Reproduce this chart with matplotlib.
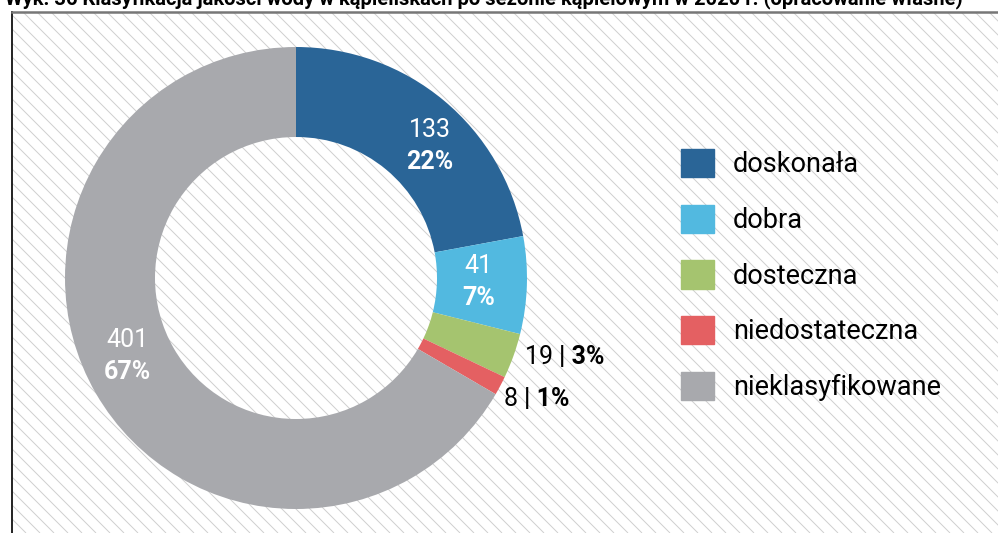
import numpy as np
import matplotlib
matplotlib.use('Agg')
import matplotlib.pyplot as plt
import matplotlib.patches as mpatches

## Data
categories = ['doskonała', 'dobra', 'dosteczna', 'niedostateczna', 'nieklasyfikowane']
counts = [133, 41, 19, 8, 401]
colors = ['#2a6597', '#52b9e0', '#a5c46f', '#e46062', '#a8a9ad']
title = 'Wyk. 36 Klasyfikacja jakości wody w kąpieliskach po sezonie kąpielowym w 2020 r. (opracowanie własne)'

## Style
FONT = ['Roboto', 'DejaVu Sans']
plt.rcParams['font.family'] = FONT
W, H = 998, 533

fig = plt.figure(figsize=(W / 100, H / 100), dpi=100)
fig.patch.set_facecolor('white')

## Background box with diagonal stripes
box_l, box_t = 12, 12
ax_bg = fig.add_axes([box_l / W, 0, 1 - box_l / W, (H - box_t) / H])
bw, bh = W - box_l, H - box_t
ax_bg.set_xlim(0, bw)
ax_bg.set_ylim(0, bh)
for c in np.arange(0, bw + bh + 20, 14):
  ax_bg.plot([0, c], [c, 0], color='#cfcfcf', lw=0.7, solid_capstyle='butt')
ax_bg.set_xticks([])
ax_bg.set_yticks([])
for side in ['right', 'bottom']:
  ax_bg.spines[side].set_visible(False)
ax_bg.spines['left'].set_color('#222222')
ax_bg.spines['left'].set_linewidth(1.4)
ax_bg.spines['top'].set_color('#777777')
ax_bg.spines['top'].set_linewidth(1.8)

## Title (cut off at the top edge, as in the source)
fig.text(5 / W, 1 - 4 / H, title, fontsize=14.5, fontweight='bold', va='baseline', ha='left')

## Donut
cx, cy, R = 296, H - 278, 231
ax = fig.add_axes([(cx - R) / W, (cy - R) / H, 2 * R / W, 2 * R / H])
wedges, _ = ax.pie(counts, colors=colors, startangle=90, counterclock=False,
                   radius=1, wedgeprops=dict(width=90 / 231, edgecolor='none'))
ax.set_xlim(-1, 1)
ax.set_ylim(-1, 1)
ax.set_axis_off()

total = sum(counts)
pcts = [round(100 * v / total) for v in counts]

## label placement per wedge: (radius, angle shift), inside or outside
label_pos = [(0.814, -5.6, 'in'), (0.79, 0.4, 'in'), (1.19, 3.0, 'out'), (1.12, -0.2, 'out'), (0.805, -5.1, 'in')]
for w, v, p, (r, shift, kind) in zip(wedges, counts, pcts, label_pos):
  ang = np.deg2rad((w.theta1 + w.theta2) / 2 + shift)
  x, y = r * np.cos(ang), r * np.sin(ang)
  if kind == 'in':
    ax.annotate(f'{v}', (x, y), xytext=(0, 11.5), textcoords='offset points',
                ha='center', va='center', fontsize=18, color='white', annotation_clip=False)
    ax.annotate(f'{p}%', (x, y), xytext=(0, -11.5), textcoords='offset points',
                ha='center', va='center', fontsize=18, color='white', fontweight='bold',
                annotation_clip=False)
  else:
    ax.annotate(f'{v} ', (x, y), ha='right', va='center', fontsize=18, color='black',
                annotation_clip=False)
    ax.annotate(f'| {p}%', (x, y), ha='left', va='center', fontsize=18, color='black',
                fontweight='bold', annotation_clip=False)

## Legend
handles = [mpatches.Patch(color=c, label=l) for c, l in zip(colors, categories)]
fig.legend(handles=handles, loc='upper left', bbox_to_anchor=(681 / W, 1 - 149 / H),
           frameon=False, fontsize=19.5, handlelength=1.22, handleheight=1.22,
           handletextpad=0.7, labelspacing=0.98, borderpad=0, borderaxespad=0)

fig.savefig('out.png', dpi=100)
